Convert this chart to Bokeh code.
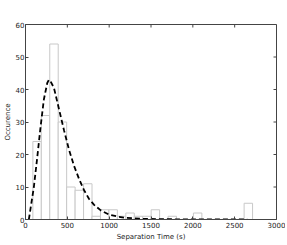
import math
from bokeh.plotting import figure
from bokeh.models import Range1d, FixedTicker, ColumnDataSource
from bokeh.embed import file_html
from bokeh.resources import INLINE

# Histogram bins (left edges, seconds) and counts
bin_left = [88, 189, 290, 391, 492, 593, 694, 795, 896, 997, 1098, 1199,
            1300, 1401, 1502, 1704, 2007, 2613]
counts = [24, 32, 54, 30, 10, 9, 11, 1, 3, 3, 1, 2, 1, 1, 3, 1, 2, 5]
bin_width = 101

# Fitted curve
fit_x = [40, 100, 140, 180, 220, 260, 280, 300, 340, 400, 460, 520, 580,
         640, 700, 760, 820, 900, 1000, 1100, 1200, 1400, 1600, 2000, 2650]
fit_y = [0, 10, 19, 28.5, 37, 42, 43, 42.5, 40.5, 34, 27.5, 21.5, 16.5,
         12.5, 9, 6.3, 4.5, 2.8, 1.5, 0.9, 0.5, 0.2, 0.1, 0.03, 0.01]

x_ticks = [0, 500, 1000, 1500, 2000, 2500, 3000]
y_ticks = [0, 10, 20, 30, 40, 50, 60]
x_max = 3000
y_max = 60

FONT = "DejaVu Sans"
FRAME = "#444444"

p = figure(frame_width=251, frame_height=195,
           x_range=Range1d(0, x_max), y_range=Range1d(0, y_max),
           output_backend="svg", toolbar_location=None,
           min_border_left=0, min_border_right=9, min_border_top=24,
           min_border_bottom=0)
p.grid.visible = False
p.outline_line_color = FRAME
p.background_fill_color = "white"
p.border_fill_color = "white"

src = ColumnDataSource(dict(
    left=bin_left,
    right=[b + bin_width for b in bin_left],
    top=counts,
    bottom=[0] * len(counts),
))
p.quad(left="left", right="right", top="top", bottom="bottom", source=src,
       fill_color="white", line_color="#c8c8c8", line_width=1)

p.line(fit_x, fit_y, line_color="black", line_width=1.8, line_dash="5 3")

for ax in (p.xaxis[0], p.yaxis[0]):
    ax.axis_line_color = FRAME
    ax.major_tick_line_color = FRAME
    ax.major_tick_in = 3
    ax.major_tick_out = 0
    ax.minor_tick_line_color = None
    ax.major_label_text_font = FONT
    ax.major_label_text_font_size = "7px"
    ax.major_label_text_color = "#222222"
    ax.axis_label_text_font = FONT
    ax.axis_label_text_font_size = "7px"
    ax.axis_label_text_font_style = "normal"
    ax.axis_label_text_color = "#222222"
    ax.major_label_standoff = 2
    ax.axis_label_standoff = 2

p.xaxis[0].ticker = FixedTicker(ticks=x_ticks)
p.yaxis[0].ticker = FixedTicker(ticks=y_ticks)
p.xaxis[0].axis_label = "Separation Time (s)"
p.yaxis[0].axis_label = "Occurence"
p.yaxis[0].axis_label_standoff = 1
p.yaxis[0].major_label_standoff = 1

# inward ticks on the top and right edges of the frame
p.ray(x=x_ticks, y=[y_max] * len(x_ticks), length=3, length_units="screen",
      angle=-math.pi / 2, line_color=FRAME, line_width=1)
p.ray(x=[x_max] * len(y_ticks), y=y_ticks, length=3, length_units="screen",
      angle=math.pi, line_color=FRAME, line_width=1)

open("out.html", "w").write(file_html(p, INLINE))
